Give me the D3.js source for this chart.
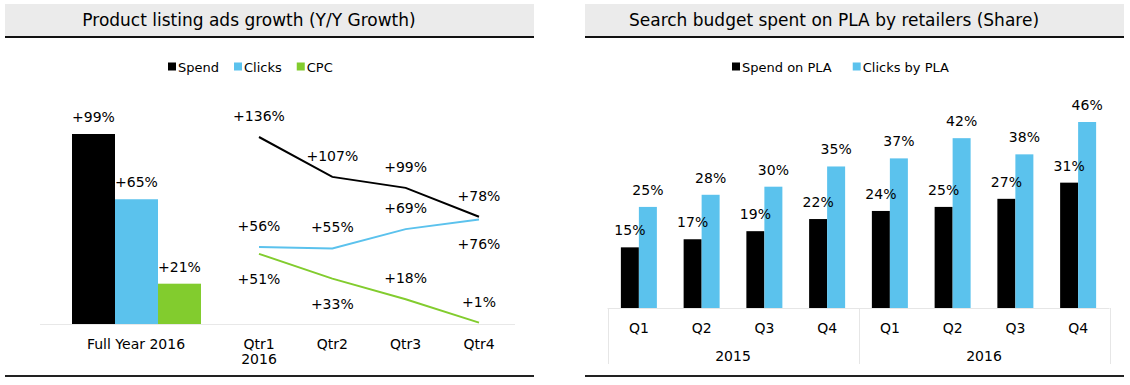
<!DOCTYPE html>
<html>
<head>
<meta charset="utf-8">
<script src="https://cdn.jsdelivr.net/npm/d3@7"></script>
<style>
  body { margin: 0; background: #fff; }
  svg { display: block; font-family: "DejaVu Sans", Verdana, sans-serif; }
</style>
</head>
<body>
<svg width="1130" height="385"></svg>
<script>
// Left panel data
const leftTitle = "Product listing ads growth (Y/Y Growth)";
const growthSeries = ["Spend", "Clicks", "CPC"];
const fullYearLabel = "Full Year 2016";
const fullYearValues = [99, 65, 21];
const quarterLabels = [["Qtr1", "2016"], ["Qtr2"], ["Qtr3"], ["Qtr4"]];
const spendGrowth = [136, 107, 99, 78];
const clicksGrowth = [56, 55, 69, 76];
const cpcGrowth = [51, 33, 18, 1];
// where each line label sits relative to its point
const spendLabelPos = ["above", "above", "above", "above"];
const clicksLabelPos = ["above", "above", "above", "below"];
const cpcLabelPos = ["below", "below", "above", "above"];

// Right panel data
const rightTitle = "Search budget spent on PLA by retailers (Share)";
const shareSeries = ["Spend on PLA", "Clicks by PLA"];
const shareQuarters = ["Q1", "Q2", "Q3", "Q4", "Q1", "Q2", "Q3", "Q4"];
const shareYears = ["2015", "2016"];
const spendShare = [15, 17, 19, 22, 24, 25, 27, 31];
const clicksShare = [25, 28, 30, 35, 37, 42, 38, 46];

const colors = ["#000000", "#5bc2ed", "#82cc2e"];

const svg = d3.select("svg");

// title bands + bottom rules
function panelFrame(x0, x1, title, titleX) {
  svg.append("rect")
    .attr("x", x0).attr("y", 4)
    .attr("width", x1 - x0).attr("height", 32)
    .attr("fill", "#ebebeb");
  svg.append("line")
    .attr("x1", x0).attr("x2", x1)
    .attr("y1", 37).attr("y2", 37)
    .attr("stroke", "#111").attr("stroke-width", 2);
  svg.append("text")
    .attr("x", titleX).attr("y", 20)
    .attr("dy", "0.35em")
    .attr("text-anchor", "middle")
    .attr("font-size", 17)
    .attr("fill", "#000")
    .text(title);
  svg.append("line")
    .attr("x1", x0).attr("x2", x1)
    .attr("y1", 376).attr("y2", 376)
    .attr("stroke", "#222").attr("stroke-width", 2);
}

panelFrame(5, 534, leftTitle, 249);
panelFrame(585, 1124, rightTitle, 834);

// Legends
function legend(items, x0, y, gap) {
  const g = svg.append("g");
  let x = x0;
  items.forEach((name, i) => {
    g.append("rect")
      .attr("x", x).attr("y", y - 4.5)
      .attr("width", 8).attr("height", 8)
      .attr("fill", colors[i]);
    const t = g.append("text")
      .attr("x", x + 10).attr("y", y)
      .attr("dy", "0.35em")
      .attr("font-size", 13)
      .text(name);
    x += 10 + t.node().getComputedTextLength() + gap;
  });
}

legend(growthSeries, 168, 67, 15);
legend(shareSeries, 732, 67, 21);

// ---------- Left panel: full-year bars ----------
const baseY = 324;
const barY = d3.scaleLinear().domain([0, 99]).range([baseY, 134]);
const barX = d3.scaleBand().domain(growthSeries).range([72, 201]).padding(0);

svg.append("line")
  .attr("x1", 40).attr("x2", 515)
  .attr("y1", baseY + 0.5).attr("y2", baseY + 0.5)
  .attr("stroke", "#e8e8e8");

svg.append("g")
  .selectAll("rect")
  .data(fullYearValues)
  .join("rect")
  .attr("x", (d, i) => barX(growthSeries[i]))
  .attr("y", (d) => barY(d))
  .attr("width", barX.bandwidth())
  .attr("height", (d) => baseY - barY(d))
  .attr("fill", (d, i) => colors[i]);

svg.append("g")
  .selectAll("text")
  .data(fullYearValues)
  .join("text")
  .attr("x", (d, i) => barX(growthSeries[i]) + barX.bandwidth() / 2)
  .attr("y", (d) => barY(d) - 17)
  .attr("dy", "0.35em")
  .attr("text-anchor", "middle")
  .attr("font-size", 14)
  .text((d) => "+" + d + "%");

svg.append("text")
  .attr("x", 136).attr("y", 344)
  .attr("dy", "0.35em")
  .attr("text-anchor", "middle")
  .attr("font-size", 14)
  .text(fullYearLabel);

// ---------- Left panel: quarterly lines ----------
const qX = d3.scalePoint().domain(d3.range(4)).range([259, 479]);
const lineY = d3.scaleLinear().domain([0, 136]).range([baseY, 137]);

const lineSeries = [
  { values: spendGrowth, pos: spendLabelPos, color: colors[0] },
  { values: clicksGrowth, pos: clicksLabelPos, color: colors[1] },
  { values: cpcGrowth, pos: cpcLabelPos, color: colors[2] },
];

const lineGen = d3.line()
  .x((d, i) => qX(i))
  .y((d) => lineY(d));

lineSeries.forEach((s) => {
  svg.append("path")
    .attr("d", lineGen(s.values))
    .attr("fill", "none")
    .attr("stroke", s.color)
    .attr("stroke-width", 2);
});

lineSeries.forEach((s) => {
  svg.append("g")
    .selectAll("text")
    .data(s.values)
    .join("text")
    .attr("x", (d, i) => qX(i))
    .attr("y", (d, i) => lineY(d) + (s.pos[i] === "above" ? -21 : 25))
    .attr("dy", "0.35em")
    .attr("text-anchor", "middle")
    .attr("font-size", 14)
    .text((d) => "+" + d + "%");
});

svg.append("g")
  .selectAll("text")
  .data(quarterLabels)
  .join("text")
  .attr("x", (d, i) => qX(i))
  .attr("y", 344)
  .attr("text-anchor", "middle")
  .attr("font-size", 14)
  .each(function (d, i) {
    d3.select(this).selectAll("tspan")
      .data(d)
      .join("tspan")
      .attr("x", qX(i))
      .attr("dy", (t, j) => (j === 0 ? "0.35em" : "1.1em"))
      .text((t) => t);
  });

// ---------- Right panel: grouped bars ----------
const rBase = 308;
const rX = d3.scaleBand().domain(d3.range(shareQuarters.length)).range([607.5, 1109.5]);
const rY = d3.scaleLinear().domain([0, 46]).range([rBase, 122]);
const barW = 18;

const rightSeries = [spendShare, clicksShare];
const xOf = (i, s) => rX(i) + rX.bandwidth() / 2 - barW + s * barW;

// bars first, labels on top
rightSeries.forEach((vals, s) => {
  svg.append("g")
    .selectAll("rect")
    .data(vals)
    .join("rect")
    .attr("x", (d, i) => xOf(i, s))
    .attr("y", (d) => rY(d))
    .attr("width", barW)
    .attr("height", (d) => rBase - rY(d))
    .attr("fill", colors[s]);
});

rightSeries.forEach((vals, s) => {
  svg.append("g")
    .selectAll("text")
    .data(vals)
    .join("text")
    .attr("x", (d, i) => xOf(i, s) + barW / 2)
    .attr("y", (d) => rY(d) - 17)
    .attr("dy", "0.35em")
    .attr("text-anchor", "middle")
    .attr("font-size", 14)
    .text((d) => d + "%");
});

// category table under the bars
const table = svg.append("g").attr("stroke", "#e6e6e6").attr("fill", "none");
table.append("line")
  .attr("x1", 607.5).attr("x2", 1109.5)
  .attr("y1", rBase + 0.5).attr("y2", rBase + 0.5);
[0, 4, 8].forEach((k) => {
  const x = k < 8 ? rX(k) : rX.range()[1];
  table.append("line")
    .attr("x1", Math.round(x) + 0.5).attr("x2", Math.round(x) + 0.5)
    .attr("y1", rBase).attr("y2", 364);
});

svg.append("g")
  .selectAll("text")
  .data(shareQuarters)
  .join("text")
  .attr("x", (d, i) => rX(i) + rX.bandwidth() / 2)
  .attr("y", 328)
  .attr("dy", "0.35em")
  .attr("text-anchor", "middle")
  .attr("font-size", 14)
  .text((d) => d);

svg.append("g")
  .selectAll("text")
  .data(shareYears)
  .join("text")
  .attr("x", (d, i) => rX(i * 4) + rX.bandwidth() * 2)
  .attr("y", 356)
  .attr("dy", "0.35em")
  .attr("text-anchor", "middle")
  .attr("font-size", 14)
  .text((d) => d);
</script>
</body>
</html>
